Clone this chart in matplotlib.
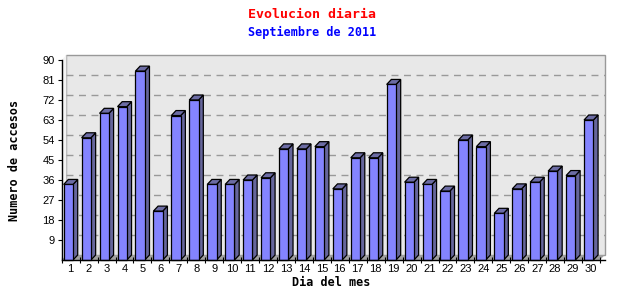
import numpy as np
import matplotlib
matplotlib.use('Agg')
import matplotlib.pyplot as plt
from matplotlib.patches import Polygon

# Daily visits, September 2011
days = [str(d) for d in range(1, 31)]
accesses = [34, 55, 66, 69, 85, 22, 65, 72, 34, 34,
            36, 37, 50, 50, 51, 32, 46, 46, 79, 35,
            34, 31, 54, 51, 21, 32, 35, 40, 38, 63]
y_ticks = [9, 18, 27, 36, 45, 54, 63, 72, 81, 90]

front_col = '#8484ff'
side_col = '#66669c'
top_col = '#6c6ca4'
wall_col = '#e8e8e8'
floor_col = '#a0a0a0'

fig = plt.figure(figsize=(6.4, 3.0), dpi=100)
ax = fig.add_axes([61.7 / 640, 40 / 300, (600 - 61.7) / 640, 200 / 300])
n = len(days)
ymax = 90
ax.set_xlim(0, n)
ax.set_ylim(0, ymax)

# 3D depth offsets in data units
px_x = (600 - 61.7) / n
px_y = 200 / ymax
dx = 4.7 / px_x
dy = 5.0 / px_y

for s in ax.spines.values():
    s.set_visible(False)
ax.patch.set_visible(False)

# back wall
ax.add_patch(Polygon([(dx, dy), (n + dx, dy), (n + dx, ymax + dy), (dx, ymax + dy)],
                     closed=True, facecolor=wall_col, edgecolor='#999999',
                     linewidth=1.0, clip_on=False, zorder=0))
# left wall
ax.add_patch(Polygon([(0, 0), (dx, dy), (dx, ymax + dy), (0, ymax)],
                     closed=True, facecolor='#f4f4f4', edgecolor='none',
                     clip_on=False, zorder=0))
# floor
ax.add_patch(Polygon([(0, 0), (n, 0), (n + dx, dy), (dx, dy)],
                     closed=True, facecolor=floor_col, edgecolor='none',
                     clip_on=False, zorder=0.5))
# grid on back wall
for v in y_ticks[:-1]:
    ax.plot([dx, n + dx], [v + dy, v + dy], color='#999999', linestyle=(0, (5, 4)),
            linewidth=1.0, clip_on=False, zorder=0.4)

# bars
fw = 0.52
for i, v in enumerate(accesses):
    c = i + 0.5
    x0 = c - 0.39
    x1 = x0 + fw
    kw = dict(closed=True, edgecolor='black', linewidth=0.9, clip_on=False, zorder=2)
    ax.add_patch(Polygon([(x1, 0), (x1 + dx, dy), (x1 + dx, v + dy), (x1, v)],
                         facecolor=side_col, **kw))
    ax.add_patch(Polygon([(x0, v), (x1, v), (x1 + dx, v + dy), (x0 + dx, v + dy)],
                         facecolor=top_col, **kw))
    ax.add_patch(Polygon([(x0, 0), (x1, 0), (x1, v), (x0, v)],
                         facecolor=front_col, **kw))

# axes lines
ax.plot([0, 0], [0, ymax], color='black', linewidth=1.0, clip_on=False, zorder=3)
ax.plot([0, n + dx], [0, 0], color='black', linewidth=1.0, clip_on=False, zorder=3)

ax.set_yticks(y_ticks)
ax.set_yticklabels([str(t) for t in y_ticks], fontsize=8, family='Liberation Sans')
ax.tick_params(axis='y', direction='out', length=3, width=0.8, pad=2)
ax.set_xticks(np.arange(n) + 0.5)
ax.set_xticklabels(days, fontsize=8, family='Liberation Sans')
ax.tick_params(axis='x', length=0, pad=3)
ax.set_xticks(np.arange(n + 1), minor=True)
ax.tick_params(axis='x', which='minor', direction='inout', length=5, width=0.8)

ax.set_xlabel('Dia del mes', fontsize=8.5, fontweight='bold', family='DejaVu Sans Mono', labelpad=1)
ax.set_ylabel('Numero de accesos', fontsize=8.5, fontweight='bold', family='DejaVu Sans Mono', labelpad=15)

fig.text(312 / 640, 1 - 14 / 300, 'Evolucion diaria', color='red', fontsize=9.5,
         fontweight='bold', family='DejaVu Sans Mono', ha='center', va='center')
fig.text(312 / 640, 1 - 32 / 300, 'Septiembre de 2011', color='blue', fontsize=8.5,
         fontweight='bold', family='DejaVu Sans Mono', ha='center', va='center')

fig.savefig('out.png', dpi=100, facecolor='white')
